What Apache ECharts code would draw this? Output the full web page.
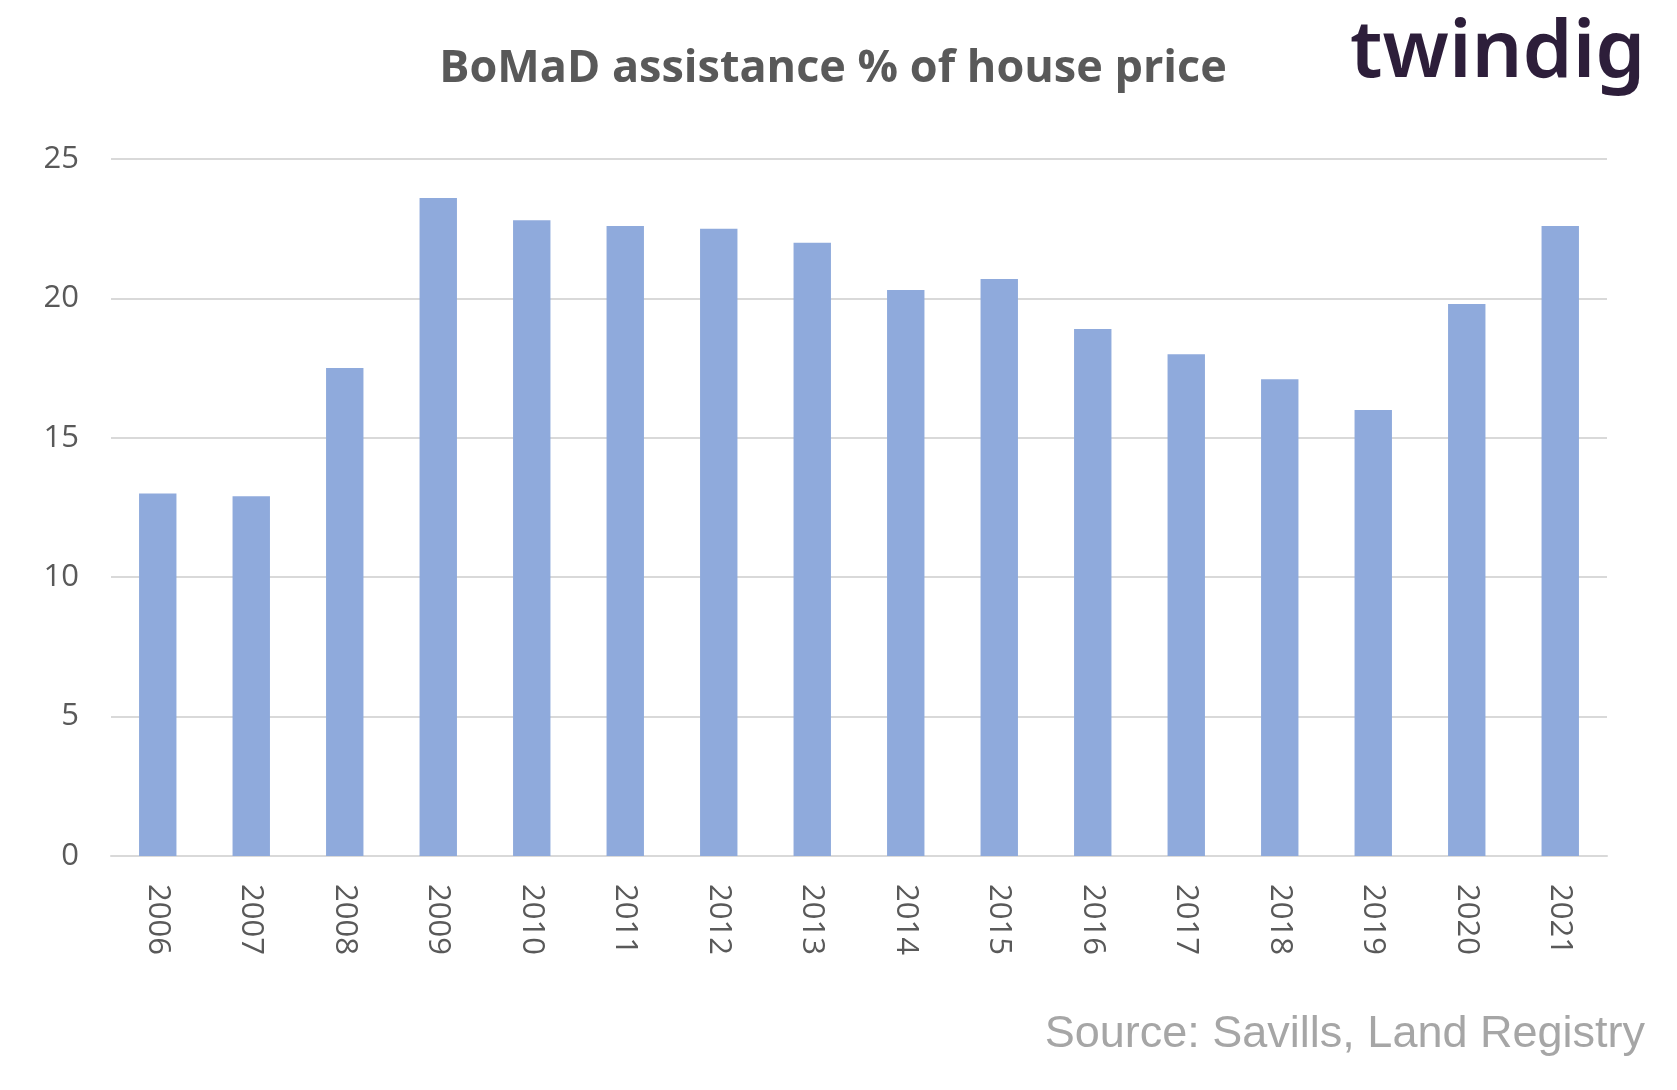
<!DOCTYPE html><html><head><meta charset="utf-8"><script src="https://cdn.jsdelivr.net/npm/echarts@6/dist/echarts.min.js"></script>
<style>html,body{margin:0;background:#fff}#c{width:1677px;height:1090px}</style></head><body><div id="c"></div><script>
const years=['2006','2007','2008','2009','2010','2011','2012','2013','2014','2015','2016','2017','2018','2019','2020','2021'];
const values=[13.0,12.9,17.5,23.6,22.8,22.6,22.5,22.0,20.3,20.7,18.9,18.0,17.1,16.0,19.8,22.6];
const c=echarts.init(document.getElementById('c'));
c.setOption({
 animation:false,
 title:{text:'BoMaD assistance % of house price',left:828,top:42,textAlign:'center',textStyle:{fontFamily:'Open Sans',fontWeight:'bold',fontSize:45,color:'#595959'}},
 graphic:[
  {type:'text',left:1350,top:14,style:{text:'twindig',font:'600 80px "Noto Sans"',fill:'#2d1e3a'}},
  {type:'text',right:32,top:1012,style:{text:'Source: Savills, Land Registry',font:'45px "Liberation Sans"',fill:'#a6a6a6'}}
 ],
 grid:{left:111,right:70,top:159,bottom:234},
 xAxis:{type:'category',data:years,axisTick:{show:false},axisLine:{lineStyle:{color:'#d9d9d9',width:2}},
  axisLabel:{rotate:-90,fontSize:31,color:'#595959',fontFamily:'Open Sans',margin:28}},
 yAxis:{type:'value',min:0,max:25,interval:5,axisLabel:{fontSize:31,color:'#595959',fontFamily:'Open Sans',margin:32},
  splitLine:{lineStyle:{color:'#d9d9d9',width:2}}},
 series:[{type:'bar',data:values,barWidth:'40%',itemStyle:{color:'#8faadc'}}]
});
</script></body></html>
